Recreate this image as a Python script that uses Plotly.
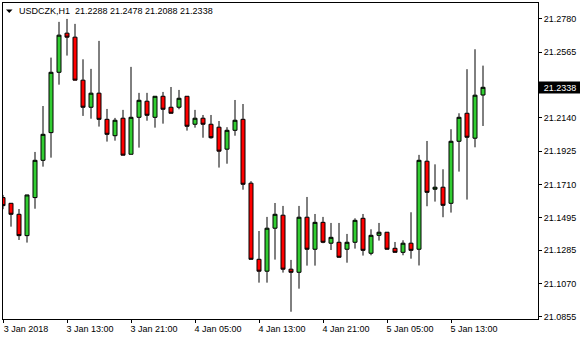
import plotly.graph_objects as go
import pandas as pd

# ---- data ----
times = [t.strftime("%Y-%m-%d %H:%M") for t in pd.date_range("2018-01-03 05:00", periods=61, freq="h")]

opens = [21.1625, 21.1588, 21.1517, 21.1379, 21.1625, 21.1866, 21.2045, 21.2435, 21.2688, 21.2662,
         21.2384, 21.2209, 21.2300, 21.2131, 21.2025, 21.2138, 21.1905, 21.2144, 21.2248, 21.2144,
         21.2280, 21.2209, 21.2209, 21.2280, 21.2099, 21.2138, 21.2099, 21.2080, 21.1938, 21.2060,
         21.2131, 21.1718, 21.1226, 21.1149, 21.1427, 21.1511, 21.1162, 21.1142, 21.1498, 21.1291,
         21.1465, 21.1330, 21.1336, 21.1291, 21.1336, 21.1491, 21.1265, 21.1381, 21.1401, 21.1297,
         21.1271, 21.1330, 21.1291, 21.1860, 21.1679, 21.1692, 21.1588, 21.1989, 21.2170, 21.2009,
         21.2288]
highs = [21.1642, 21.1590, 21.1551, 21.1643, 21.1920, 21.2217, 21.2530, 21.2761, 21.2780, 21.2748,
         21.2519, 21.2457, 21.2638, 21.2198, 21.2140, 21.2192, 21.2470, 21.2302, 21.2302, 21.2281,
         21.2308, 21.2340, 21.2321, 21.2281, 21.2192, 21.2159, 21.2159, 21.2120, 21.2080, 21.2256,
         21.2230, 21.1731, 21.1409, 21.1500, 21.1590, 21.1571, 21.1222, 21.1571, 21.1629, 21.1519,
         21.1500, 21.1461, 21.1461, 21.1390, 21.1491, 21.1519, 21.1420, 21.1461, 21.1402, 21.1338,
         21.1349, 21.1530, 21.1901, 21.1991, 21.1840, 21.1808, 21.2067, 21.2170, 21.2455, 21.2584,
         21.2478]
lows = [21.1550, 21.1437, 21.1351, 21.1334, 21.1553, 21.1825, 21.1883, 21.2355, 21.2543, 21.2383,
        21.2153, 21.2135, 21.2084, 21.1987, 21.1993, 21.1898, 21.1904, 21.1948, 21.2122, 21.2077,
        21.2103, 21.2169, 21.2196, 21.2058, 21.2077, 21.2012, 21.2006, 21.1819, 21.1844, 21.2025,
        21.1676, 21.1225, 21.1075, 21.1075, 21.1224, 21.1140, 21.0887, 21.1036, 21.1185, 21.1185,
        21.1330, 21.1286, 21.1238, 21.1204, 21.1295, 21.1250, 21.1252, 21.1347, 21.1290, 21.1270,
        21.1252, 21.1230, 21.1186, 21.1569, 21.1599, 21.1498, 21.1528, 21.1793, 21.1612, 21.1950,
        21.2088]
closes = [21.1573, 21.1517, 21.1379, 21.1642, 21.1866, 21.2034, 21.2435, 21.2675, 21.2662, 21.2384,
          21.2209, 21.2300, 21.2131, 21.2034, 21.2125, 21.1899, 21.2144, 21.2254, 21.2157, 21.2280,
          21.2196, 21.2170, 21.2267, 21.2086, 21.2138, 21.2099, 21.2012, 21.1925, 21.2060, 21.2125,
          21.1711, 21.1226, 21.1149, 21.1427, 21.1517, 21.1162, 21.1142, 21.1498, 21.1291, 21.1465,
          21.1336, 21.1368, 21.1239, 21.1336, 21.1478, 21.1284, 21.1381, 21.1401, 21.1291, 21.1271,
          21.1330, 21.1284, 21.1866, 21.1659, 21.1692, 21.1575, 21.1989, 21.2144, 21.2015, 21.2287,
          21.2338]

x_tick_times = ["2018-01-03 05:00", "2018-01-03 13:00", "2018-01-03 21:00", "2018-01-04 05:00",
                "2018-01-04 13:00", "2018-01-04 21:00", "2018-01-05 05:00", "2018-01-05 13:00"]
x_tick_labels = ["3 Jan 2018", "3 Jan 13:00", "3 Jan 21:00", "4 Jan 05:00",
                 "4 Jan 13:00", "4 Jan 21:00", "5 Jan 05:00", "5 Jan 13:00"]
y_tick_vals = [21.2780, 21.2565, 21.2140, 21.1925, 21.1710, 21.1495, 21.1285, 21.1070, 21.0855]
y_tick_labels = ["21.2780", "21.2565", "21.2140", "21.1925", "21.1710", "21.1495", "21.1285", "21.1070", "21.0855"]

symbol = "USDCZK,H1"
last_o, last_h, last_l, last_c = 21.2288, 21.2478, 21.2088, 21.2338

FONT = "Liberation Sans"

fig = go.Figure(go.Candlestick(
    x=times, open=opens, high=highs, low=lows, close=closes,
    increasing=dict(fillcolor="#32CD32", line=dict(color="black", width=1)),
    decreasing=dict(fillcolor="#FF0000", line=dict(color="black", width=1)),
    whiskerwidth=0, hoverinfo="skip",
))

fig.update_layout(
    width=580, height=340,
    margin=dict(l=3, r=42, t=3, b=21),
    paper_bgcolor="white", plot_bgcolor="white",
    showlegend=False,
    boxgap=0.5, boxgroupgap=0,
    font=dict(family=FONT, size=9, color="black"),
    xaxis=dict(
        type="category", range=[0, 66.875],
        rangeslider=dict(visible=False),
        showgrid=False, zeroline=False,
        showline=True, linecolor="black", linewidth=1, mirror=True,
        tickmode="array", tickvals=x_tick_times, ticktext=x_tick_labels,
        ticks="outside", ticklen=3, tickcolor="black", tickwidth=1,
        ticklabelshift=23, ticklabelstandoff=-2,
        tickfont=dict(family=FONT, size=9, color="black"),
    ),
    yaxis=dict(
        side="right", range=[21.0840, 21.2883],
        showgrid=False, zeroline=False,
        showline=True, linecolor="black", linewidth=1, mirror=True,
        tickmode="array", tickvals=y_tick_vals, ticktext=y_tick_labels,
        ticks="outside", ticklen=3, tickcolor="black", tickwidth=1,
        tickfont=dict(family=FONT, size=9, color="black"),
    ),
)

fig.add_annotation(
    xref="paper", yref="paper", x=0.028, y=0.9747, xanchor="left", yanchor="middle",
    text=f"{symbol}\u00a0\u00a0{last_o:.4f} {last_h:.4f} {last_l:.4f} {last_c:.4f}",
    showarrow=False, font=dict(family=FONT, size=9, color="black"), borderpad=0,
)
fig.add_shape(
    type="path", xref="paper", yref="paper",
    path="M 0.0056 0.9794 L 0.0178 0.9794 L 0.0117 0.9684 Z",
    fillcolor="black", line=dict(color="black", width=0),
)
fig.add_annotation(
    xref="paper", yref="y", x=1, y=last_c, xanchor="left", yanchor="middle",
    text=f"{last_c:.4f}", showarrow=False,
    font=dict(family=FONT, size=9, color="white"),
    bgcolor="black", borderpad=1, width=40, height=9, align="center",
)

fig.write_html("out.html")
